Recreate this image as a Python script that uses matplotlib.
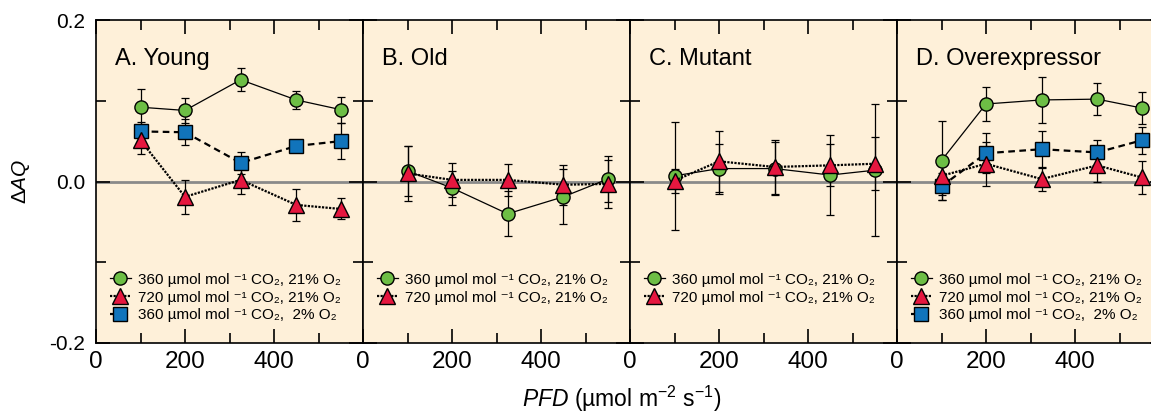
import matplotlib
matplotlib.use('Agg')
import matplotlib.pyplot as plt
from matplotlib.ticker import MultipleLocator

plt.rcParams['font.family'] = ['Liberation Sans', 'DejaVu Sans']
plt.rcParams['mathtext.fontset'] = 'custom'
plt.rcParams['mathtext.rm'] = 'Liberation Sans'
plt.rcParams['mathtext.it'] = 'Liberation Sans:italic'

# PFD values (x)
pfd = [100, 200, 325, 450, 550]

panel_titles = ['A. Young', 'B. Old', 'C. Mutant', 'D. Overexpressor']

# 360 umol mol-1 CO2, 21% O2 (green circles)
green = [
    [0.092, 0.088, 0.126, 0.101, 0.089],
    [0.013, -0.008, -0.040, -0.019, 0.003],
    [0.007, 0.016, 0.016, 0.008, 0.014],
    [0.026, 0.096, 0.101, 0.102, 0.091],
]
green_err = [
    [0.022, 0.015, 0.014, 0.011, 0.016],
    [0.031, 0.021, 0.028, 0.034, 0.029],
    [0.067, 0.031, 0.033, 0.050, 0.082],
    [0.049, 0.021, 0.029, 0.020, 0.020],
]

# 720 umol mol-1 CO2, 21% O2 (red triangles)
red = [
    [0.051, -0.019, 0.002, -0.029, -0.034],
    [0.010, 0.002, 0.002, -0.004, -0.003],
    [0.001, 0.025, 0.018, 0.020, 0.022],
    [0.007, 0.022, 0.003, 0.020, 0.005],
]
red_err = [
    [0.017, 0.021, 0.017, 0.020, 0.013],
    [0.034, 0.021, 0.020, 0.025, 0.030],
    [0.015, 0.038, 0.033, 0.026, 0.033],
    [0.024, 0.027, 0.015, 0.020, 0.020],
]

# 360 umol mol-1 CO2, 2% O2 (blue squares) - only panels A and D
blue = [
    [0.062, 0.061, 0.023, 0.044, 0.050],
    None,
    None,
    [-0.006, 0.035, 0.040, 0.036, 0.051],
]
blue_err = [
    [0.012, 0.016, 0.014, 0.005, 0.022],
    None,
    None,
    [0.017, 0.025, 0.023, 0.016, 0.017],
]

lab_green = '360 µmol mol ⁻¹ CO₂, 21% O₂'
lab_red = '720 µmol mol ⁻¹ CO₂, 21% O₂'
lab_blue = '360 µmol mol ⁻¹ CO₂,  2% O₂'

bg = '#FEF0D9'
c_green = '#6DBE45'
c_red = '#E5173F'
c_blue = '#1174BB'

fig = plt.figure(figsize=(11.51, 4.13), dpi=100)

left = 96 / 1151
width = 267 / 1151
bottom = 1 - 343 / 413
height = 323 / 413

for i in range(4):
    ax = fig.add_axes([left + i * width, bottom, width, height])
    ax.set_facecolor(bg)
    ax.set_xlim(0, 600)
    ax.set_ylim(-0.2, 0.2)
    ax.axhline(0, color='#8A8A8A', lw=2, zorder=1)

    # error bars first
    ax.errorbar(pfd, green[i], yerr=green_err[i], fmt='none', ecolor='black',
                elinewidth=0.9, capsize=3, capthick=0.9, zorder=2)
    ax.errorbar(pfd, red[i], yerr=red_err[i], fmt='none', ecolor='black',
                elinewidth=0.9, capsize=3, capthick=0.9, zorder=2)
    if blue[i] is not None:
        ax.errorbar(pfd, blue[i], yerr=blue_err[i], fmt='none', ecolor='black',
                    elinewidth=0.9, capsize=3, capthick=0.9, zorder=2)

    hg, = ax.plot(pfd, green[i], '-', color='black', lw=0.9, marker='o', ms=9.5,
                  mfc=c_green, mec='black', mew=1, label=lab_green, zorder=3)
    handles = [hg]
    if blue[i] is not None:
        hb, = ax.plot(pfd, blue[i], color='black', lw=1.6, ls=(0, (3, 2)),
                      marker='s', ms=9.5, mfc=c_blue, mec='black', mew=1,
                      label=lab_blue, zorder=4)
    hr, = ax.plot(pfd, red[i], color='black', lw=1.6, ls=(0, (1, 0.6)),
                  marker='^', ms=11, mfc=c_red, mec='black', mew=1,
                  label=lab_red, zorder=5)
    handles.append(hr)
    if blue[i] is not None:
        handles.append(hb)

    ax.text(0.07, 0.86, panel_titles[i], transform=ax.transAxes, fontsize=17,
            va='baseline', ha='left')

    ax.legend(handles=handles, loc='upper left', bbox_to_anchor=(0.0, 0.26),
              frameon=False, fontsize=11, handlelength=1.4,
              handletextpad=0.45, labelspacing=0.25, borderaxespad=0.5)

    ax.xaxis.set_major_locator(MultipleLocator(200))
    ax.xaxis.set_minor_locator(MultipleLocator(100))
    ax.yaxis.set_major_locator(MultipleLocator(0.2))
    ax.yaxis.set_minor_locator(MultipleLocator(0.1))
    ax.tick_params(which='both', direction='in', top=True, right=True, width=1.2)
    ax.tick_params(which='major', length=10)
    ax.tick_params(which='minor', length=7)
    ax.tick_params(axis='x', labelsize=17.5, pad=6)
    ax.tick_params(axis='y', labelsize=15, pad=8)
    ax.set_xticks([0, 200, 400])
    ax.set_xticklabels(['0', '200', '400'])
    if i == 0:
        ax.set_yticks([-0.2, 0.0, 0.2])
        ax.set_yticklabels(['-0.2', '0.0', '0.2'])
        ax.set_ylabel('Δ$\\it{AQ}$', fontsize=15, labelpad=12)
    else:
        ax.set_yticklabels([])
    for s in ax.spines.values():
        s.set_linewidth(1.2)

fig.text(622 / 1151, 1 - 399 / 413, '$\\it{PFD}$ (µmol m$^{-2}$ s$^{-1}$)',
         fontsize=16.5, ha='center', va='center')

fig.savefig('out.png', dpi=100)
